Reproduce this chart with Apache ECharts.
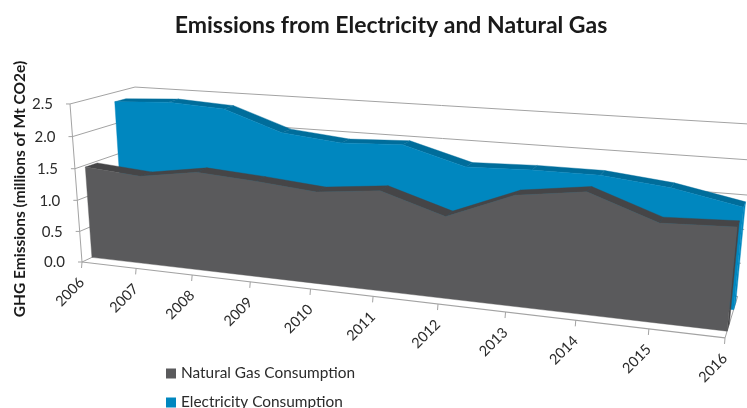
<!DOCTYPE html>
<html><head><meta charset="utf-8">
<style>html,body{margin:0;padding:0;background:#fff}#c{width:747px;height:408px;filter:blur(0.4px)}</style>
<script src="https://cdn.jsdelivr.net/npm/echarts@6/dist/echarts.min.js"></script>
</head><body><div id="c"></div>
<script>
const years = ['2006','2007','2008','2009','2010','2011','2012','2013','2014','2015','2016'];
const gas = [1.47,1.40,1.54,1.48,1.40,1.50,1.21,1.60,1.73,1.39,1.43];
const electricity = [2.35,2.40,2.35,2.04,1.95,1.99,1.73,1.76,1.76,1.66,1.47];
const yTicks = [0,0.5,1,1.5,2,2.5];

const FONT = 'Lato, "Open Sans", sans-serif';
const G = {left:82, top:110, width:643, height:158};
// perspective of the 3D box: unit box (t along years, Y along value, Z into the page) to pixels
function project(t,Y,Z){
  const w = 1 - 0.173*t - 0.04*Y + 0.0863*Z;
  return [(82 + 517.6*t - 14.8*Y + 74.05*Z)/w, (262 + 17.5*t - 162.2*Y - 8.72*Z)/w];
}
function unit(api,i,v){
  const c = api.coord([i,v]);
  return [(c[0]-G.left)/G.width, (G.top+G.height-c[1])/G.height];
}
function poly(points,fill,extra){
  return Object.assign({type:'polygon',silent:true,shape:{points},style:{fill,stroke:fill,lineWidth:0.4}},extra||{});
}
function line(a,b,color,w){
  return {type:'line',silent:true,shape:{x1:a[0],y1:a[1],x2:b[0],y2:b[1]},style:{stroke:color,lineWidth:w||1,fill:null}};
}
function areaItem(values,zf,zb,front,top,side){
  return function(params,api){
    if(params.dataIndex!==0) return null;
    const u = values.map((v,i)=>unit(api,i,v));
    const base = values.map((v,i)=>unit(api,i,0));
    const kids = [];
    for(let i=0;i<u.length-1;i++){
      kids.push(poly([project(u[i][0],u[i][1],zf),project(u[i+1][0],u[i+1][1],zf),project(u[i+1][0],u[i+1][1],zb),project(u[i][0],u[i][1],zb)],top));
    }
    const n=u.length-1;
    kids.push(poly([project(base[n][0],0,zf),project(u[n][0],u[n][1],zf),project(u[n][0],u[n][1],zb),project(base[n][0],0,zb)],side));
    const pts = u.map(p=>project(p[0],p[1],zf)).concat(base.slice().reverse().map(p=>project(p[0],0,zf)));
    kids.push(poly(pts,front));
    return {type:'group',children:kids};
  };
}
const GRID='#a3a3a3', TXT='#2b2b2b';
function frameItem(params,api){
  const i=params.dataIndex, kids=[];
  const p=unit(api,i,0);
  const f=project(p[0],0,0);
  kids.push(line(f,[f[0]-0.5,f[1]+6],GRID));
  kids.push({type:'text',silent:true,x:f[0]-12,y:f[1]+30,rotation:Math.PI/4,
    style:{text:years[i],fill:TXT,font:'14.5px '+FONT,align:'center',verticalAlign:'middle'}});
  if(i===0){
    yTicks.forEach(v=>{
      const q=unit(api,0,v)[1];
      const a=project(0,q,0), b=project(0,q,1), c=project(1,q,1);
      kids.push(line(a,b,GRID)); kids.push(line(b,c,GRID));
      kids.push(line(a,[a[0]-4,a[1]],GRID));
      kids.push({type:'text',silent:true,x:a[0]-17,y:a[1]+0.5,
        style:{text:v.toFixed(1),fill:TXT,font:'15px '+FONT,align:'right',verticalAlign:'middle'}});
    });
    const top=unit(api,0,2.5)[1];
    kids.push(line(project(0,0,0),project(0,top,0),GRID));
    kids.push(line(project(0,0,0),project(1,0,0),GRID,1.2));
    kids.push(line(project(1,0,0),project(1,0,1),GRID));
    kids.push(line(project(1,0,1),project(0,0,1),GRID));
  }
  return {type:'group',children:kids};
}
const legendBase = {orient:'vertical',left:166,itemWidth:10,itemHeight:10,icon:'rect',padding:0,
  textStyle:{fontFamily:FONT,fontSize:15.4,color:TXT}};
const chart = echarts.init(document.getElementById('c'),null,{renderer:'canvas'});
chart.setOption({
  animation:false,
  backgroundColor:'#fff',
  title:{text:'Emissions from Electricity and Natural Gas',left:386,top:9,textAlign:'center',
    textStyle:{fontFamily:FONT,fontSize:23,fontWeight:'bold',color:'#1a1a1a'}},
  legend:[
    Object.assign({},legendBase,{top:366,data:['Natural Gas Consumption']}),
    Object.assign({},legendBase,{top:395,data:['Electricity Consumption']})
  ],
  grid:G,
  xAxis:{type:'category',data:years,boundaryGap:false,axisLine:{show:false},axisTick:{show:false},axisLabel:{show:false},splitLine:{show:false}},
  yAxis:{type:'value',min:0,max:2.5,interval:0.5,name:'GHG Emissions (millions of Mt CO2e)',nameLocation:'middle',nameGap:54,nameRotate:90,
    nameTextStyle:{fontFamily:FONT,fontSize:15.5,fontWeight:'bold',color:'#1a1a1a'},
    axisLine:{show:false},axisTick:{show:false},axisLabel:{show:false},splitLine:{show:false}},
  series:[
    {type:'custom',name:'frame',coordinateSystem:'cartesian2d',z:1,renderItem:frameItem,data:years.map((y,i)=>[i,0]),encode:{x:0,y:1}},
    {type:'custom',name:'Electricity Consumption',coordinateSystem:'cartesian2d',z:2,itemStyle:{color:'#0087bf'},
      renderItem:areaItem(electricity,0.66,0.84,'#0087bf','#006d9b','#0087bf'),data:electricity.map((v,i)=>[i,v]),encode:{x:0,y:1}},
    {type:'custom',name:'Natural Gas Consumption',coordinateSystem:'cartesian2d',z:3,itemStyle:{color:'#5a5a5c'},
      renderItem:areaItem(gas,0.15,0.33,'#5a5a5c','#454547','#454547'),data:gas.map((v,i)=>[i,v]),encode:{x:0,y:1}}
  ]
});
</script></body></html>
